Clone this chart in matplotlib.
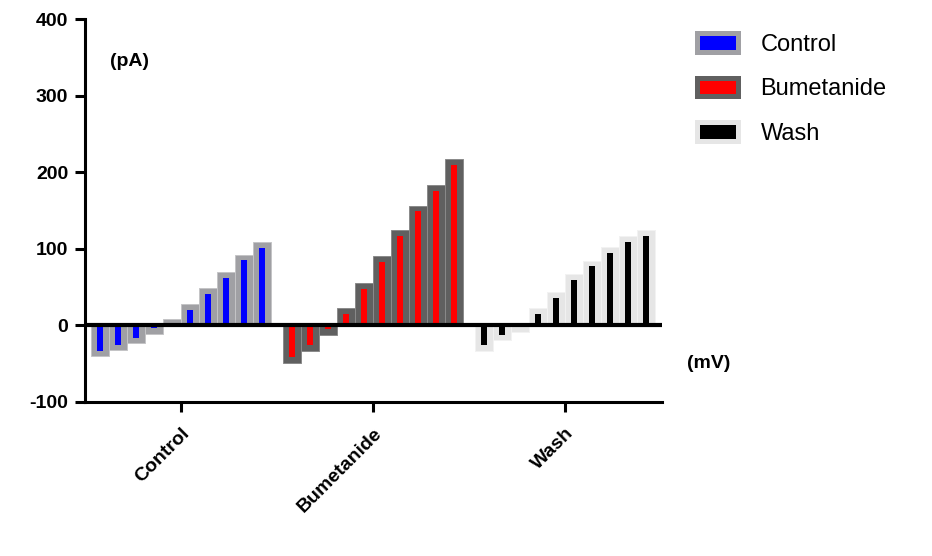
import matplotlib.pyplot as plt
from matplotlib.patches import Patch
import numpy as np

plt.rcParams['font.family'] = ['Liberation Sans', 'DejaVu Sans']
plt.rcParams['axes.unicode_minus'] = False

# current at each voltage step (pA), 10 steps per condition
groups = ["Control", "Bumetanide", "Wash"]
control = [-33, -25, -16, -4, 1, 20, 41, 62, 85, 101]
bumetanide = [-41, -26, -5, 15, 48, 83, 117, 149, 176, 210]
wash = [-26, -12, -1, 15, 36, 59, 77, 95, 109, 117]

fill_colors = ["#0000ff", "#ff0000", "#000000"]
frame_colors = ["#a0a0a4", "#606060", "#e6e6e6"]
frame_edges = ["#c4c4c6", "#8a8a8a", "#f2f2f2"]

group_step = 10.67
frame_pad = 7.5

fig = plt.figure(figsize=(9.32, 5.56), dpi=100)
ax = fig.add_axes([85 / 932, 154 / 556, 577 / 932, 383 / 556])

for g, values in enumerate([control, bumetanide, wash]):
    values = np.array(values, dtype=float)
    xs = g * group_step + np.arange(len(values)) - 4.5
    frame = np.where(values >= 0, values + frame_pad, values - frame_pad)
    ax.bar(xs, frame, width=1.0, color=frame_colors[g],
           edgecolor=frame_edges[g], linewidth=0.7, zorder=1)
    ax.bar(xs, values, width=0.33, color=fill_colors[g], linewidth=0, zorder=2)

ax.axhline(0, color="black", linewidth=3.0, zorder=3)

ax.set_xlim(-5.33, 2 * group_step + 5.39)
ax.set_ylim(-100, 400)
ax.set_yticks(np.arange(-100, 401, 100))
ax.set_xticks([g * group_step for g in range(len(groups))])
ax.set_xticklabels(groups, rotation=45, ha="right", va="top",
                   rotation_mode="anchor", fontweight="bold", fontsize=14)
for lab in ax.get_yticklabels():
    lab.set_fontweight("bold")
    lab.set_fontsize(14)

for side in ["top", "right"]:
    ax.spines[side].set_visible(False)
for side in ["left", "bottom"]:
    ax.spines[side].set_linewidth(2.2)
ax.tick_params(axis="y", length=7, width=2.2, pad=5)
ax.tick_params(axis="x", length=7.5, width=2.2, pad=9)

fig.text(110 / 932, 1 - 61 / 556, "(pA)", fontsize=14, fontweight="bold",
         va="center", ha="left")
fig.text(687 / 932, 1 - 363 / 556, "(mV)", fontsize=14, fontweight="bold",
         va="center", ha="left")

handles = [Patch(facecolor=fill_colors[i], edgecolor=frame_colors[i], linewidth=3.6)
           for i in range(len(groups))]
fig.legend(handles, groups, loc="upper left", bbox_to_anchor=(697 / 932, 1 - 33 / 556),
           frameon=False, fontsize=17, handlelength=1.74, handleheight=0.85,
           handletextpad=0.95, labelspacing=0.93, borderpad=0, borderaxespad=0)

fig.savefig("out.png", dpi=100)
